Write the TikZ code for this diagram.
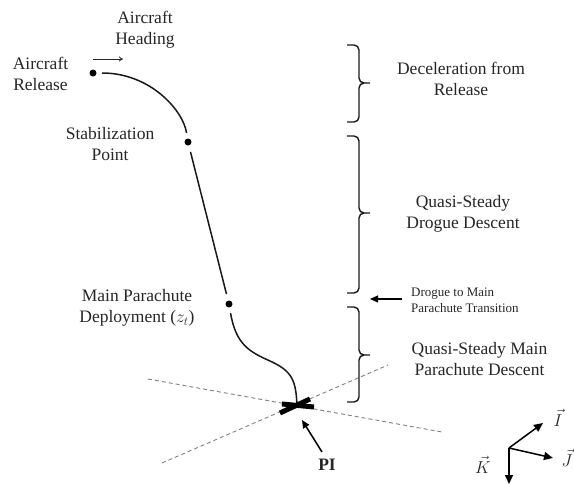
\documentclass[tikz,border=0pt]{standalone}
\usepackage{fontspec}
\setmainfont{Liberation Serif}
\usetikzlibrary{arrows.meta,calc}
\begin{document}
\begin{tikzpicture}[x=1pt,y=1pt,
  dotn/.style={circle,fill=black,inner sep=0pt,minimum size=7pt},
  lbl/.style={font=\fontsize{17.5}{21}\selectfont,text=black!85,align=center,inner sep=0pt,anchor=base},
  smalllbl/.style={font=\fontsize{13}{15.5}\selectfont,text=black!85,align=left,inner sep=0pt,anchor=base west},
  traj/.style={line width=1.5pt,black!90},
  brc/.style={line width=1.4pt,black!90},
  guide/.style={dash pattern=on 4pt off 3pt,gray,line width=0.9pt},
  crossbar/.style={line width=5pt,black},
  thinarrow/.style={line width=0.8pt,black!85,-{To[length=4pt,width=5pt]}},
  fatarrow/.style={line width=1.5pt,black,-{Triangle[length=8pt,width=7pt]}},
  axarrow/.style={line width=1.5pt,black,-{Triangle[length=9pt,width=8pt]}},
  axlbl/.style={font=\fontsize{17}{20}\selectfont,text=black!85,inner sep=0pt}
]
\useasboundingbox (0,0) rectangle (574,-485);

% guide lines through the point of impact
\coordinate (gA1) at (148,-379);
\coordinate (gA2) at (442,-432);
\coordinate (gB1) at (162,-463);
\coordinate (gB2) at (388,-365);
\draw[guide] (gA1) -- (gA2);
\draw[guide] (gB1) -- (gB2);

% trajectory points
\node[dotn] (rel) at (93,-73) {};
\node[dotn] (stab) at (188,-142) {};
\node[dotn] (dep) at (229,-304) {};
\coordinate (pi) at (297,-406);

\draw[traj,shorten <=5.5pt,shorten >=5.5pt] (rel) .. controls (150,-73) and (183,-110) .. (stab);
\draw[traj,shorten <=6.5pt,shorten >=6.5pt] (stab) -- (dep);
\draw[traj,shorten <=5.5pt] (dep) .. controls (236,-345) and (250,-352) .. (270,-361)
   .. controls (292,-371) and (296,-380) .. (pi);

% impact cross
\draw[crossbar] ($(pi)+(-17,-7)$) -- ($(pi)+(13,7)$);
\draw[crossbar] ($(pi)+(-15,2)$) -- ($(pi)+(17,-1)$);

% labels along the trajectory (anchor = baseline of last line)
\node[lbl] (head) at (145,-44.5) {Aircraft\\Heading};
\coordinate (hd1) at (93,-59);
\coordinate (hd2) at (123,-59);
\draw[thinarrow] (hd1) -- (hd2);
\node[lbl] (rellab) at (40.5,-90.5) {Aircraft\\Release};
\node[lbl] (stablab) at (110,-160.5) {Stabilization\\Point};
\node[lbl] (deplab) at (137,-322.5) {Main Parachute\\Deployment ($z_t$)};

% PI
\node[lbl,font=\fontsize{17.5}{21}\selectfont\bfseries] (pilab) at (327,-470) {PI};
\coordinate (pitail) at (322,-452);
\coordinate (pitip) at (302,-420);
\draw[fatarrow] (pitail) -- (pitip);

% braces
\draw[brc] (347,-45) -- (354,-45) to[out=0,in=90] (359,-50) -- (359,-78) to[out=-90,in=180] (364,-83) -- (370,-83);
\draw[brc] (364,-83) to[out=180,in=90] (359,-88) -- (359,-117) to[out=-90,in=0] (354,-122) -- (347,-122);

\draw[brc] (347,-136) -- (354,-136) to[out=0,in=90] (359,-141) -- (359,-208) to[out=-90,in=180] (364,-213) -- (370,-213);
\draw[brc] (364,-213) to[out=180,in=90] (359,-218) -- (359,-288) to[out=-90,in=0] (354,-293) -- (347,-293);

\draw[brc] (347,-307) -- (354,-307) to[out=0,in=90] (359,-312) -- (359,-350) to[out=-90,in=180] (364,-355) -- (370,-355);
\draw[brc] (364,-355) to[out=180,in=90] (359,-360) -- (359,-397) to[out=-90,in=0] (354,-402) -- (347,-402);

% phase labels
\node[lbl] (decel) at (461,-95) {Deceleration from\\Release};
\node[lbl] (drogue) at (463,-228) {Quasi-Steady\\Drogue Descent};
\node[smalllbl] (trans) at (411,-312) {Drogue to Main\\Parachute Transition};
\coordinate (tr1) at (402,-299);
\coordinate (tr2) at (370,-299);
\draw[fatarrow,line width=1.2pt] (tr1) -- (tr2);
\node[lbl] (mainlab) at (479.5,-375) {Quasi-Steady Main\\Parachute Descent};

% axes
\coordinate (ax0) at (509,-448);
\coordinate (axI) at (543,-423);
\coordinate (axJ) at (553,-458);
\coordinate (axK) at (509,-484);
\draw[axarrow] (ax0) -- (axI);
\draw[axarrow] (ax0) -- (axJ);
\draw[axarrow] (ax0) -- (axK);
\node[axlbl] (lI) at (558,-418) {$\vec{I}$};
\node[axlbl] (lJ) at (567,-458) {$\vec{J}$};
\node[axlbl] (lK) at (483,-465) {$\vec{K}$};
\end{tikzpicture}
\end{document}
